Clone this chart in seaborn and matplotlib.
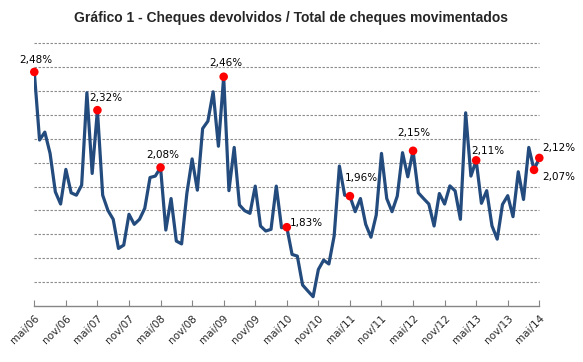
import matplotlib
matplotlib.use("Agg")
import matplotlib.pyplot as plt
import seaborn as sns
import pandas as pd

# ---- data ----
valores = [
    2.48, 2.195, 2.228, 2.139, 1.978, 1.927, 2.072, 1.974, 1.964, 2.006,
    2.393, 2.055, 2.32, 1.964, 1.90, 1.863, 1.741, 1.755, 1.884, 1.842,
    1.863, 1.909, 2.038, 2.044, 2.08, 1.818, 1.95, 1.772, 1.76, 1.971,
    2.116, 1.985, 2.243, 2.274, 2.397, 2.169, 2.46, 1.983, 2.164, 1.923,
    1.899, 1.888, 2.002, 1.835, 1.814, 1.821, 2.002, 1.828, 1.83, 1.716,
    1.709, 1.588, 1.563, 1.539, 1.653, 1.692, 1.676, 1.793, 2.086, 1.964,
    1.96, 1.895, 1.95, 1.842, 1.788, 1.881, 2.139, 1.95, 1.895, 1.96,
    2.142, 2.041, 2.15, 1.974, 1.95, 1.927, 1.835, 1.971, 1.927, 2.003,
    1.982, 1.863, 2.309, 2.044, 2.11, 1.93, 1.983, 1.836, 1.78, 1.925,
    1.962, 1.874, 2.062, 1.946, 2.164, 2.07, 2.12,
]
tick_labels = ["mai/06", "nov/06", "mai/07", "nov/07", "mai/08", "nov/08",
               "mai/09", "nov/09", "mai/10", "nov/10", "mai/11", "nov/11",
               "mai/12", "nov/12", "mai/13", "nov/13", "mai/14"]
destaques = [0, 12, 24, 36, 48, 60, 72, 84, 95, 96]
destaque_labels = ["2,48%", "2,32%", "2,08%", "2,46%", "1,83%", "1,96%",
                   "2,15%", "2,11%", "2,07%", "2,12%"]
# label offsets in pixels (dx, dy; dy up)
label_offsets = [(2, 12), (8, 12), (2, 12), (2, 14), (20, 4), (11, 18),
                 (1, 18), (12, 9), (25, -7), (20, 10)]

df = pd.DataFrame({"mes": range(len(valores)), "valor": valores})
dfd = df.iloc[destaques]

sns.set_style("white")
plt.rcParams["font.family"] = ["DejaVu Sans"]

fig = plt.figure(figsize=(5.83, 3.62), dpi=100)
ax = fig.add_axes([34.3 / 583, 1 - 306 / 362, (539.3 - 34.3) / 583, (306 - 43.3) / 362])

for v in [1.6, 1.7, 1.8, 1.9, 2.0, 2.1, 2.2, 2.3, 2.4, 2.5, 2.6]:
    ax.axhline(v, color="#8c8c8c", lw=0.8, ls=(0, (2.2, 1.4)), zorder=0, clip_on=False)

sns.lineplot(data=df, x="mes", y="valor", ax=ax, color="#234B7D", lw=2.3, zorder=3)
sns.scatterplot(data=dfd, x="mes", y="valor", ax=ax, color="#FF0000", s=38,
                edgecolor="none", zorder=4, clip_on=False)

for (i, lab, (dx, dy)) in zip(destaques, destaque_labels, label_offsets):
    ax.annotate(lab, (i, valores[i]), xytext=(dx, dy), textcoords="offset pixels",
                ha="center", va="center", fontsize=7.5, color="#000000",
                annotation_clip=False)

ax.set_xlim(0, len(valores) - 1)
ax.set_ylim(1.5, 2.6)
ax.set_xticks(list(range(0, len(valores), 6)))
ax.set_xticklabels(tick_labels, rotation=45, ha="right", rotation_mode="anchor",
                   fontsize=7.5)
ax.set_yticks([])
ax.set_xlabel("")
ax.set_ylabel("")
for s in ["top", "right", "left"]:
    ax.spines[s].set_visible(False)
ax.spines["bottom"].set_color("#868686")
ax.spines["bottom"].set_linewidth(1.0)
ax.tick_params(axis="x", direction="in", length=4, width=0.8, color="#868686",
               pad=5, bottom=True)

fig.text(0.5, 1 - 18 / 362, "Gráfico 1 - Cheques devolvidos / Total de cheques movimentados",
         ha="center", va="center", fontsize=10, fontweight="bold",
         family=["Liberation Sans"])

fig.savefig("out.png", dpi=100, facecolor="white")
